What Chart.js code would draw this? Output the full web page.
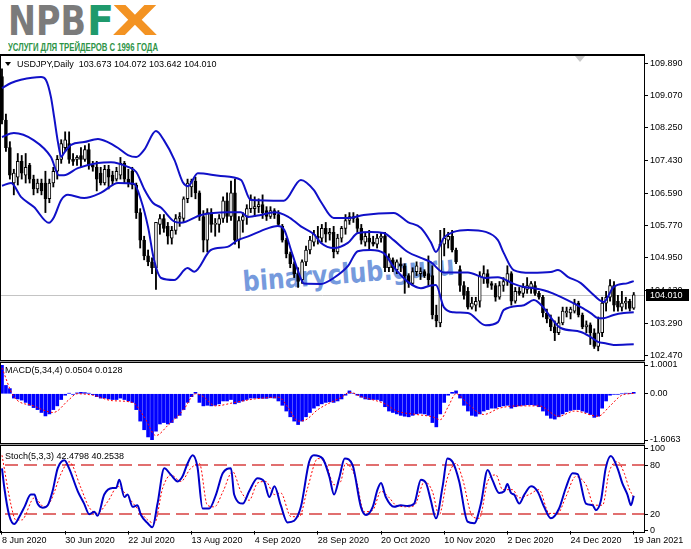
<!DOCTYPE html>
<html><head><meta charset="utf-8">
<script src="https://cdn.jsdelivr.net/npm/chart.js@4.4.1/dist/chart.umd.min.js"></script>
<style>
html,body{margin:0;padding:0;background:#fff;}
body{width:691px;height:549px;position:relative;overflow:hidden;font-family:"Liberation Sans",Arial,sans-serif;}
.a{position:absolute;white-space:nowrap;}
canvas{position:absolute;left:0;}
.t{position:absolute;font-size:9px;line-height:10px;color:#000;white-space:pre;font-family:"Liberation Sans",Arial,sans-serif;}
.fr{position:absolute;box-sizing:border-box;border:1px solid #000;pointer-events:none;}
.sep{position:absolute;left:0;width:645px;height:1px;background:#9a9a9a;}
</style></head><body>
<div id="logoNPB" class="a" style="left:8px;top:0px;font:bold 41px/42px 'DejaVu Sans';color:#7b7b7b;transform-origin:0 0;">NPB</div>
<div id="logoF" class="a" style="left:87px;top:0px;font:bold 41px/42px 'DejaVu Sans';color:#1f9a6c;transform-origin:0 0;">F</div>
<div id="logoX" class="a" style="left:112px;top:0px;font:bold 41px/42px 'DejaVu Sans';color:#f39323;transform-origin:0 0;">X</div>
<div id="slogan" class="a" style="left:8px;top:41px;font:bold 11px/12px 'Liberation Sans';color:#2e9447;transform-origin:0 0;">УСЛУГИ ДЛЯ ТРЕЙДЕРОВ С 1996 ГОДА</div>
<div id="wm" class="a" style="left:230px;top:260px;font:bold 28px/28px 'DejaVu Sans';color:#6890da;opacity:0.9;transform-origin:50% 50%;">binaryclub.guru</div>

<canvas id="cMain" width="691" height="312" style="top:50px"></canvas>
<canvas id="cMacd" width="691" height="90" style="top:356px"></canvas>
<canvas id="cSto" width="691" height="109" style="top:440px"></canvas>

<div class="fr" style="left:0;top:54px;width:645px;height:307px;border-top-width:2px;"></div>
<div class="sep" style="top:361px"></div>
<div class="fr" style="left:0;top:362px;width:645px;height:82px;"></div>
<div class="sep" style="top:444px"></div>
<div class="fr" style="left:0;top:445px;width:645px;height:88px;"></div>
<div class="a" style="left:575px;top:56px;width:0;height:0;border-left:5px solid transparent;border-right:5px solid transparent;border-top:6px solid #c8c8c8;"></div>

<div class="a" style="left:5px;top:62px;width:0;height:0;border-left:3.5px solid transparent;border-right:3.5px solid transparent;border-top:4px solid #000;"></div>
<div class="t" style="left:17px;top:59px;">USDJPY,Daily  103.673 104.072 103.642 104.010</div>
<div class="t" style="left:5px;top:365px;">MACD(5,34,4) 0.0504 0.0128</div>
<div class="t" style="left:5px;top:451px;">Stoch(5,3,3) 42.4798 40.2538</div>

<script>
// ---------------- DATA ----------------
const xTickIdx = [0,16,32,48,64,80,96,112,128,144,160];
const xTickLabels = ['8 Jun 2020','30 Jun 2020','22 Jul 2020','13 Aug 2020','4 Sep 2020','28 Sep 2020','20 Oct 2020','10 Nov 2020','2 Dec 2020','24 Dec 2020','19 Jan 2021'];
const priceTicks = [109.89,109.07,108.25,107.43,106.59,105.77,104.95,104.13,103.29,102.47];
const macdTicks = [1.0001,0,-1.6063];
const macdTickLabels = ['1.0001','0.00','-1.6063'];
const stochTicks = [100,80,20,0];
const stochLevels = [80,20];

const opens = [
109.55,108.45,107.75,106.85,107.00,107.40,107.05,107.30,106.95,106.70,
106.85,106.85,106.45,106.85,107.15,107.45,107.75,107.85,107.45,107.45,
107.55,107.45,107.70,107.30,107.25,107.10,106.85,107.20,107.05,106.95,
107.05,107.35,106.95,107.15,106.80,106.10,105.40,105.00,104.85,104.70,
105.80,105.95,105.75,105.45,105.65,105.95,105.95,106.45,106.75,106.90,
106.60,106.00,105.40,106.10,105.80,105.80,105.95,106.40,106.00,106.60,
105.40,105.90,106.00,106.20,106.20,106.25,106.30,106.15,106.00,106.15,
106.05,105.75,105.40,105.05,104.80,104.55,104.40,104.85,105.15,105.35,
105.50,105.45,105.70,105.55,105.60,105.10,105.45,105.70,105.90,106.00,
105.95,105.70,105.35,105.45,105.35,105.30,105.45,105.50,104.70,104.90,
104.65,104.80,104.75,104.50,104.30,104.60,104.55,104.60,104.55,104.50,
103.50,103.30,105.30,105.40,105.50,105.15,104.65,104.25,104.10,103.70,
103.75,103.85,104.45,104.55,104.30,104.25,103.95,104.25,104.35,104.55,
103.85,104.10,104.05,104.15,104.20,104.25,104.05,103.95,103.55,103.40,
103.20,103.05,103.30,103.55,103.55,103.60,103.80,103.50,103.20,103.25,
103.05,102.70,103.05,103.80,103.95,104.25,103.85,103.70,103.80,103.85,
103.673];
const highs = [
109.75,108.60,107.90,107.20,107.60,107.55,107.60,107.35,107.05,106.95,
106.95,107.15,106.95,107.25,107.55,107.95,108.15,108.15,107.60,107.55,
107.75,107.80,107.85,107.40,107.40,107.25,107.30,107.30,107.15,107.25,
107.50,107.40,107.20,107.25,106.85,106.20,105.50,105.15,104.95,105.85,
106.05,106.05,105.85,105.75,106.05,106.10,106.50,106.95,106.95,107.00,
106.65,106.15,106.20,106.20,105.95,106.05,106.50,106.60,106.90,106.95,
106.00,106.10,106.30,106.55,106.50,106.45,106.55,106.25,106.25,106.20,
106.15,105.80,105.45,105.10,104.85,104.70,104.90,105.25,105.50,105.65,
105.75,105.80,105.85,105.70,105.75,105.55,105.75,106.05,106.10,106.10,
106.05,105.80,105.60,105.65,105.50,105.55,105.60,105.60,105.05,104.95,
104.90,104.95,104.80,104.55,104.70,104.85,104.70,104.65,105.00,104.75,
103.75,105.65,105.70,105.60,105.65,105.20,104.75,104.35,104.20,103.95,
103.95,104.60,104.75,104.65,104.35,104.30,104.35,104.45,104.75,104.60,
104.20,104.20,104.30,104.45,104.35,104.35,104.10,104.00,103.65,103.50,
103.35,103.45,103.70,103.70,103.70,103.90,103.85,103.55,103.35,103.30,
103.15,103.45,103.95,104.10,104.40,104.35,104.00,104.10,103.95,103.90,
104.072];
const lows = [
108.35,107.65,106.95,106.55,106.80,106.95,106.85,106.85,106.55,106.60,
106.55,106.10,106.35,106.75,106.95,107.35,107.65,107.35,107.30,107.30,
107.25,107.40,107.20,107.15,106.65,106.80,106.80,106.70,106.80,106.90,
106.95,106.85,106.75,106.70,105.95,105.20,104.90,104.75,104.55,104.15,
105.55,105.60,105.30,105.30,105.55,105.75,105.85,106.35,106.50,106.45,
105.90,105.10,105.10,105.60,105.50,105.60,105.85,105.85,105.90,105.30,
105.20,105.60,105.80,106.10,106.00,106.10,105.95,105.90,105.95,105.95,
105.75,105.35,104.95,104.70,104.45,104.20,104.30,104.75,105.05,105.25,
105.30,105.35,105.35,105.40,104.95,105.05,105.35,105.55,105.80,105.85,
105.60,105.30,105.25,105.15,105.25,105.20,105.35,104.60,104.60,104.60,
104.55,104.60,104.05,104.20,104.25,104.50,104.40,104.45,104.25,103.40,
103.20,103.20,105.00,105.20,105.10,104.80,104.10,103.90,103.65,103.65,
103.60,103.70,104.30,104.20,104.15,103.85,103.90,104.10,104.25,103.75,
103.80,104.00,103.95,104.05,104.05,104.00,103.90,103.45,103.30,103.10,
102.85,103.00,103.25,103.45,103.40,103.55,103.45,103.15,103.05,102.75,
102.65,102.59,102.95,103.60,103.85,103.60,103.60,103.60,103.65,103.60,
103.642];
const closes = [
108.45,107.75,107.05,107.10,107.40,107.10,107.25,106.95,106.70,106.85,
106.65,106.45,106.85,107.15,107.45,107.85,107.95,107.45,107.40,107.50,
107.45,107.70,107.30,107.25,106.95,106.85,107.20,107.00,106.90,107.15,
107.35,106.95,106.85,106.80,106.10,105.40,105.00,104.85,104.70,105.85,
105.95,105.70,105.50,105.65,105.95,106.00,106.45,106.85,106.90,106.60,
106.00,105.40,106.10,105.80,105.80,105.95,106.40,106.00,106.60,105.40,
105.90,106.00,106.20,106.45,106.25,106.30,106.10,106.00,106.15,106.05,
105.80,105.40,105.05,104.80,104.55,104.35,104.85,105.15,105.40,105.55,
105.45,105.70,105.55,105.60,105.10,105.45,105.70,105.90,106.00,105.95,
105.70,105.40,105.50,105.35,105.30,105.45,105.50,104.70,104.95,104.70,
104.85,104.75,104.50,104.30,104.60,104.75,104.60,104.50,104.40,103.50,
103.35,105.30,105.45,105.50,105.15,104.85,104.25,104.00,103.70,103.80,
103.85,104.50,104.55,104.30,104.25,103.95,104.25,104.35,104.55,103.85,
104.10,104.05,104.20,104.25,104.30,104.05,103.95,103.55,103.40,103.20,
103.05,103.30,103.60,103.60,103.65,103.80,103.50,103.20,103.25,103.05,
102.70,103.05,103.80,103.95,104.25,103.75,103.70,103.80,103.85,103.67,
104.010];

// Bollinger bands: [bar index, price]
const bbUpper = [[0,109.26],[2.3,109.39],[4.8,109.47],[9.9,109.54],[11.1,109.47],[12.4,109.03],[13.2,108.53],[14.2,107.87],[15,107.51],[15.7,107.61],[17.5,107.82],[20.8,107.89],[24.3,107.97],[26.8,107.89],[29.4,107.74],[31.9,107.56],[34,107.51],[36,107.69],[39,108.17],[41,107.94],[43.7,107.43],[45.8,106.87],[47.1,106.77],[49.6,107.10],[55.4,107.03],[60.5,106.93],[63,106.42],[71.4,106.40],[75.7,106.93],[79,106.67],[80.8,106.37],[84,105.96],[87.6,105.96],[91.6,106.04],[99.2,106.09],[102.8,105.86],[106.1,105.71],[108.6,105.35],[109.9,105.10],[111.9,105.46],[114.4,105.61],[118,105.66],[122.5,105.61],[125.6,105.40],[127.1,105.07],[129.6,104.64],[134,104.57],[139,104.59],[140.8,104.64],[143.3,104.47],[146.6,104.31],[149.1,104.08],[152.4,103.83],[154.9,104.21],[158.5,104.31],[160,104.36]];
const bbMiddle = [[0,108.02],[3,108.12],[8,107.94],[12.4,107.51],[14.4,107.05],[15.7,107.05],[19.2,107.23],[24.3,107.36],[27.6,107.38],[31.9,107.26],[34,107.13],[36,106.70],[38.2,106.35],[40.3,106.22],[43.5,105.88],[45.3,105.84],[50.4,106.04],[57.2,106.11],[60.5,106.11],[62.3,105.99],[65.6,106.04],[68.9,106.11],[72.4,106.00],[75.7,105.75],[79,105.55],[80.8,105.33],[84,105.20],[87.6,105.33],[90.1,105.58],[93.4,105.61],[96.7,105.58],[99.2,105.40],[102.8,105.10],[106.1,104.95],[108.6,104.84],[111.9,104.58],[118,104.58],[122.5,104.44],[125.6,104.46],[129.6,104.29],[132.2,104.21],[134.7,104.18],[137.2,104.13],[139.5,104.05],[141.5,103.96],[146.6,103.70],[149.1,103.55],[151.1,103.42],[152.4,103.42],[154.9,103.50],[157.5,103.55],[160,103.57]];
const bbLower = [[0,106.78],[2.3,106.85],[4.8,106.50],[8.1,106.24],[11.9,105.84],[13.2,105.99],[15,106.42],[16.7,106.55],[20.8,106.47],[25,106.60],[29.4,106.85],[33.4,106.83],[35.2,106.42],[37,105.73],[38.5,104.90],[40.3,104.44],[43.6,104.39],[47,104.69],[48.7,104.60],[52.9,105.15],[57.1,105.23],[59.7,105.40],[62.2,105.49],[67.3,105.70],[69.8,105.76],[71.5,105.66],[73.2,105.15],[74.9,104.64],[76.5,104.30],[80.8,104.29],[84,104.44],[87.6,104.74],[90.1,105.12],[93.4,105.15],[96.7,105.07],[99.2,104.72],[102.8,104.34],[106.1,104.18],[108.6,104.25],[109.9,104.26],[111.9,103.70],[114.4,103.57],[118,103.55],[122.5,103.24],[125.6,103.32],[127.1,103.63],[132.2,103.75],[134.7,103.88],[137.2,103.68],[139.5,103.37],[141.5,103.17],[146.6,103.07],[149.1,102.94],[151.1,102.81],[152.4,102.79],[154.9,102.74],[160,102.76]];

const macdHist = [
1.0001,0.29,0.18,-0.15,-0.18,-0.22,-0.30,-0.40,-0.48,-0.55,
-0.65,-0.77,-0.70,-0.55,-0.42,-0.20,-0.05,0.02,-0.02,0.03,
0.05,0.04,0.02,-0.03,-0.10,-0.15,-0.15,-0.18,-0.20,-0.20,
-0.15,-0.20,-0.25,-0.30,-0.55,-0.95,-1.25,-1.50,-1.6063,-1.30,
-1.05,-1.00,-1.05,-1.00,-0.85,-0.75,-0.55,-0.30,-0.10,0.05,
-0.30,-0.42,-0.40,-0.42,-0.40,-0.35,-0.25,-0.25,-0.20,-0.35,
-0.30,-0.25,-0.20,-0.15,-0.15,-0.15,-0.16,-0.16,-0.14,-0.15,
-0.25,-0.40,-0.60,-0.80,-0.95,-1.07,-0.95,-0.80,-0.65,-0.50,
-0.42,-0.35,-0.30,-0.28,-0.30,-0.25,-0.18,-0.05,0.10,0.02,
-0.05,-0.12,-0.18,-0.20,-0.20,-0.20,-0.25,-0.45,-0.60,-0.65,
-0.70,-0.75,-0.78,-0.80,-0.75,-0.70,-0.68,-0.70,-0.75,-1.00,
-1.15,-0.70,-0.30,-0.05,0.05,0.10,-0.15,-0.40,-0.60,-0.75,
-0.78,-0.70,-0.60,-0.55,-0.50,-0.50,-0.45,-0.42,-0.40,-0.50,
-0.45,-0.42,-0.40,-0.38,-0.38,-0.40,-0.45,-0.60,-0.75,-0.85,
-0.88,-0.80,-0.70,-0.62,-0.58,-0.55,-0.55,-0.60,-0.65,-0.72,
-0.82,-0.78,-0.50,-0.25,-0.05,-0.02,-0.02,0.00,0.02,0.01,
0.0504];
const macdSignal = [[0,0.9],[3,-0.1],[8,-0.42],[13,-0.65],[17,-0.2],[19,0],[23,-0.05],[28,-0.24],[33,-0.3],[36,-0.8],[39,-1.45],[42,-1.1],[46,-0.55],[49,0],[51,-0.1],[54,-0.42],[59,-0.3],[64,-0.18],[70,-0.12],[72.6,-0.5],[75,-0.95],[77,-0.9],[80,-0.55],[84,-0.25],[86,-0.12],[88,0.05],[91,-0.1],[97,-0.35],[100,-0.6],[105,-0.72],[109,-0.8],[111,-0.9],[113,-0.45],[115,0],[118,-0.35],[122,-0.72],[126,-0.5],[131,-0.42],[136,-0.42],[141,-0.78],[145,-0.6],[151,-0.78],[154,-0.42],[157,-0.05],[160,0.0128]];

const stochMain = [[0,76],[0.6,52],[1.8,19],[3.1,8],[4.4,17],[5.7,29],[7.3,44],[8.2,44],[9,33],[10.3,28],[11.6,31],[12.8,48],[14.1,76],[15.8,86],[17,76],[19.2,48],[20.8,33],[22.1,20],[23.4,23],[24.2,18],[25.9,44],[28,52],[28.9,52],[29.7,62],[31,41],[31.8,44],[33.1,29],[34.3,31],[35.2,19],[36.9,9],[38.1,4],[39.4,33],[41.1,76],[42.8,68],[44.5,60],[45.7,66],[47,82],[48.3,92],[49.5,78],[50.8,27],[52.5,27],[54.2,44],[55.9,70],[58,76],[58.8,44],[61,33],[62.6,48],[64.7,64],[66.4,60],[67.7,41],[69,54],[70.6,31],[72.3,10],[74,12],[75.7,29],[77.8,84],[79,92],[81.2,88],[82.9,66],[84.1,44],[85.4,64],[86.8,88],[88.8,80],[90.9,29],[92.2,19],[93.9,29],[95.1,50],[96,58],[97.2,41],[99.3,29],[101,31],[102.7,30],[104.4,33],[106.1,62],[107.4,58],[108.6,37],[109.9,15],[111.6,54],[112.8,88],[114.1,84],[115.8,60],[117.9,11],[119.6,9],[121.3,33],[123,74],[124.2,62],[125.9,46],[127.2,48],[128,57],[128.9,46],[129.7,44],[131,33],[132.3,44],[134,54],[135.6,48],[137.3,29],[139,15],[141.1,27],[142.8,52],[144.5,70],[145.8,69],[147.9,33],[149.6,31],[150.4,25],[151.7,37],[152.9,76],[154.2,91],[155.9,76],[157.1,58],[158.4,44],[159.3,31],[160,42.48]];
const stochSignal = [[0,92],[2.3,31],[3.5,13],[5,13],[8.2,40],[10.7,29],[12.4,37],[15,70],[17,84],[20,52],[22,29],[24,21],[27,37],[29.3,54],[31.4,44],[34.3,27],[36.9,13],[38.6,9],[40.7,52],[42.8,68],[45.3,60],[47.8,76],[50,82],[52,31],[53.8,29],[56,48],[58.4,72],[60.5,48],[62.6,37],[64.7,58],[66.8,60],[69,44],[70.6,46],[73.2,17],[75.3,17],[77.4,52],[80,88],[82,82],[84.1,56],[85.8,60],[87,82],[89.6,64],[91.7,23],[93.9,25],[96,48],[98.1,40],[99.8,31],[103.1,29],[104.8,33],[107,60],[109,48],[110.7,19],[112.8,64],[115,82],[116.6,64],[119.2,17],[120.9,15],[123,60],[125.1,68],[126.8,50],[129.3,50],[131,40],[133.5,44],[136,50],[138.6,21],[140.7,21],[142.8,41],[145.3,66],[147.9,56],[150,31],[152.1,31],[153.8,72],[155.9,84],[157.6,70],[158.8,52],[160,40.25]];

// ---------------- LAYOUT / STYLE ----------------
const X_MIN = -0.25, X_MAX = 162.6;
const FONT = {family:'Liberation Sans', size:9};
Chart.defaults.font.family = 'Liberation Sans';
Chart.defaults.animation = false;

function hiddenX(){
  return {type:'linear', min:X_MIN, max:X_MAX, display:false, offset:false};
}
function yAxis(min, max, vals, fmt){
  return {
    type:'linear', position:'right', min, max,
    afterBuildTicks(s){ s.ticks = vals.map(v=>({value:v})); },
    afterFit(s){ s.width = 47; s.paddingTop = 0; s.paddingBottom = 0; },
    ticks:{callback:(v,i)=>fmt(v,i), font:FONT, color:'#000', padding:2, autoSkip:false, maxRotation:0},
    grid:{display:true, drawOnChartArea:false, drawTicks:true, tickLength:4, color:'#000', lineWidth:1},
    border:{display:false}
  };
}
const pts = arr => arr.map(([x,y])=>({x,y}));
const lineDs = (arr, color, width, dash, order) => ({
  type:'line', data:pts(arr), borderColor:color, borderWidth:width, borderDash:dash||[],
  pointRadius:0, fill:false, cubicInterpolationMode:'monotone', order
});

const last = closes.length - 1;
const bidPlugin = {
  id:'bid',
  beforeDatasetsDraw(c){
    const {ctx, chartArea:a, scales:{y}} = c;
    const py = Math.round(y.getPixelForValue(closes[last])) + 0.5;
    ctx.save(); ctx.strokeStyle = '#c4c4c4'; ctx.lineWidth = 1;
    ctx.beginPath(); ctx.moveTo(a.left, py); ctx.lineTo(a.right, py); ctx.stroke(); ctx.restore();
  },
  afterDraw(c){
    const {ctx, chartArea:a, scales:{y}} = c;
    const py = Math.round(y.getPixelForValue(closes[last]));
    ctx.save(); ctx.fillStyle = '#000'; ctx.fillRect(a.right+2, py-6, 43, 12);
    ctx.fillStyle = '#fff'; ctx.font = '9px "Liberation Sans"'; ctx.textBaseline = 'middle';
    ctx.fillText(closes[last].toFixed(3), a.right+6, py+0.5); ctx.restore();
  }
};

// ---------------- MAIN (candles + Bollinger) ----------------
const wickData = highs.map((h,i)=>({x:i, y:[lows[i], h]}));
const bodyData = opens.map((o,i)=>({x:i, y:[o, closes[i]]}));
const bodyFill = opens.map((o,i)=> closes[i] >= o ? '#ffffff' : '#000000');

new Chart(document.getElementById('cMain'), {
  type:'bar',
  data:{datasets:[
    {type:'bar', data:wickData, backgroundColor:'#000', barThickness:1.2, grouped:false, order:3},
    {type:'bar', data:bodyData, backgroundColor:bodyFill, borderColor:'#000', borderWidth:1, borderSkipped:false, barThickness:3, minBarLength:1, grouped:false, order:2},
    lineDs(bbUpper, '#1010c8', 2, null, 1),
    lineDs(bbMiddle, '#1010c8', 2, null, 1),
    lineDs(bbLower, '#1010c8', 2, null, 1)
  ]},
  options:{
    responsive:false, animation:false,
    layout:{padding:{top:6, bottom:3, left:1, right:0}},
    plugins:{legend:{display:false}, tooltip:{enabled:false}},
    scales:{x:hiddenX(), y:yAxis(102.383, 110.075, priceTicks, v=>v.toFixed(3))}
  },
  plugins:[bidPlugin]
});

// ---------------- MACD ----------------
new Chart(document.getElementById('cMacd'), {
  type:'bar',
  data:{datasets:[
    {type:'bar', data:macdHist.map((v,i)=>({x:i, y:v})), backgroundColor:'#0000ff', barThickness:3, grouped:false, order:2},
    lineDs(macdSignal, '#ff0000', 1, [2,2], 1)
  ]},
  options:{
    responsive:false, animation:false,
    layout:{padding:{top:9, bottom:6, left:1, right:0}},
    plugins:{legend:{display:false}, tooltip:{enabled:false}},
    scales:{x:hiddenX(), y:yAxis(-1.6063, 1.0001, macdTicks, (v,i)=>macdTickLabels[i])}
  }
});

// ---------------- STOCHASTIC ----------------
const levelPlugin = {
  id:'levels',
  beforeDatasetsDraw(c){
    const {ctx, chartArea:a, scales:{y}} = c;
    ctx.save(); ctx.strokeStyle = '#d84040'; ctx.lineWidth = 1.6; ctx.setLineDash([13,6]);
    stochLevels.forEach(l=>{
      const py = Math.round(y.getPixelForValue(l));
      ctx.beginPath(); ctx.moveTo(a.left+4, py); ctx.lineTo(a.right, py); ctx.stroke();
    });
    ctx.restore();
  }
};
new Chart(document.getElementById('cSto'), {
  type:'line',
  data:{datasets:[
    lineDs(stochSignal, '#ff0000', 1, [2,2], 2),
    lineDs(stochMain, '#0000c8', 2, null, 1)
  ]},
  options:{
    responsive:false, animation:false,
    layout:{padding:{top:8.7, bottom:0, left:1, right:0}},
    plugins:{legend:{display:false}, tooltip:{enabled:false}},
    scales:{
      x:{type:'linear', min:X_MIN, max:X_MAX, display:true, offset:false,
         afterBuildTicks(s){ s.ticks = xTickIdx.map(v=>({value:v})); },
         afterFit(s){ s.height = 18.4; s.paddingLeft = 0; s.paddingRight = 0; },
         ticks:{callback:(v,i)=>xTickLabels[i], align:'start', autoSkip:false, maxRotation:0, minRotation:0, padding:1, font:FONT, color:'#000'},
         grid:{display:true, drawOnChartArea:false, drawTicks:true, tickLength:4, color:'#000'},
         border:{display:false}},
      y:yAxis(0, 100, stochTicks, v=>String(v))
    }
  },
  plugins:[levelPlugin]
});

// ---------------- text fitting ----------------
function fit(id, w, extra){
  const el = document.getElementById(id);
  const r = el.getBoundingClientRect().width;
  el.style.transform = (extra||'') + ' scaleX(' + (w/r) + ')';
}
fit('logoNPB', 78);
fit('logoF', 27);
fit('logoX', 46);
fit('slogan', 150);
(function(){
  const el = document.getElementById('wm');
  const r = el.getBoundingClientRect().width;
  el.style.left = (349 - r/2) + 'px';
  el.style.transform = 'rotate(-4.5deg) scaleX(' + (212/r) + ')';
})();
</script>
</body></html>
